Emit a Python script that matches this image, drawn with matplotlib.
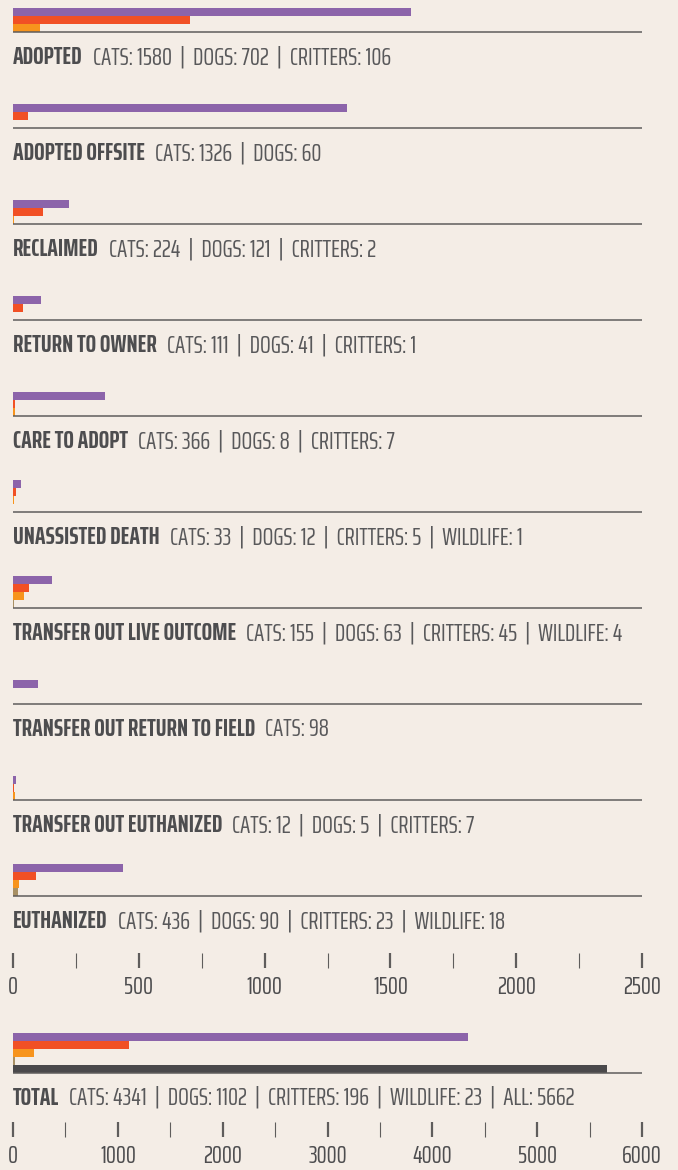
import matplotlib
matplotlib.use('Agg')
import matplotlib.pyplot as plt
from matplotlib import font_manager as fm
from matplotlib.ticker import MultipleLocator

# outcome rows
names = ["ADOPTED", "ADOPTED OFFSITE", "RECLAIMED", "RETURN TO OWNER", "CARE TO ADOPT",
         "UNASSISTED DEATH", "TRANSFER OUT LIVE OUTCOME", "TRANSFER OUT RETURN TO FIELD",
         "TRANSFER OUT EUTHANIZED", "EUTHANIZED"]
cats = [1580, 1326, 224, 111, 366, 33, 155, 98, 12, 436]
dogs = [702, 60, 121, 41, 8, 12, 63, None, 5, 90]
critters = [106, None, 2, 1, 7, 5, 45, None, 7, 23]
wildlife = [None, None, None, None, None, 1, 4, None, None, 18]

# totals
total_labels = ["CATS", "DOGS", "CRITTERS", "WILDLIFE", "ALL"]
total_values = [4341, 1102, 196, 23, 5662]

series_labels = ["CATS", "DOGS", "CRITTERS", "WILDLIFE"]
colors = ['#8c64aa', '#f15025', '#f7941d', '#a89064', '#4a494b']

BG = '#f4ede6'
TXT = '#4d4d4f'
LINE = '#5f5d5c'
SEP = "  |  "

W, H = 678, 1170
fig = plt.figure(figsize=(W / 100, H / 100), dpi=100, facecolor=BG)
renderer = fig.canvas.get_renderer()


# pick the narrowest installed condensed face (the original uses a Bebas-like font)
def pick_font():
    groups = {}
    for f in fm.fontManager.ttflist:
        st = str(f.stretch).lower()
        if 'condensed' in st or 'narrow' in f.name.lower() or 'condensed' in f.name.lower():
            if f.style != 'normal':
                continue
            groups.setdefault((f.name, st), []).append(f)
    best = None
    for key, fl in groups.items():
        w = [int(f.weight) if str(f.weight).isdigit() else 400 for f in fl]
        reg = min(zip(fl, w), key=lambda p: abs(p[1] - 400))
        bold = min(zip(fl, w), key=lambda p: abs(p[1] - 700))
        if bold[1] < 600:
            continue
        rp = fm.FontProperties(fname=reg[0].fname, size=10)
        ww, hh, dd = renderer.get_text_width_height_descent("CATS: 1580 DOGS", rp, ismath=False)
        if best is None or ww < best[0]:
            best = (ww, reg[0].fname, bold[0].fname)
    if best is None:
        return fm.FontProperties(family='DejaVu Sans'), fm.FontProperties(family='DejaVu Sans', weight='bold')
    return fm.FontProperties(fname=best[1]), fm.FontProperties(fname=best[2])


REG, BOLD = pick_font()


def fp(base, size):
    p = base.copy()
    p.set_size(size)
    return p


def text_w(s, prop):
    return renderer.get_text_width_height_descent(s, prop, ismath=False)[0]


# font size: fit the widest label into the plot width
def fit_size():
    widest = 0
    for i in range(len(names)):
        parts = [v for v in (cats[i], dogs[i], critters[i], wildlife[i]) if v is not None]
        s = SEP.join("%s: %d" % (l, v) for l, v in zip(series_labels, parts))
        wpx = text_w(names[i], fp(BOLD, 10)) + 10 + text_w(s, fp(REG, 10))
        widest = max(widest, wpx)
    return min(19.0, 10 * 620 / widest)


FS = fit_size()

BAR = 8
PITCH = 96


def make_axes(top, bottom, xmax, step):
    ax = fig.add_axes([13 / W, (H - bottom) / H, 629 / W, (bottom - top) / H])
    ax.set_facecolor('none')
    ax.set_xlim(0, xmax)
    ax.set_ylim(bottom, top)
    for s in ax.spines.values():
        s.set_visible(False)
    ax.set_yticks([])
    ax.xaxis.set_major_locator(MultipleLocator(step))
    ax.xaxis.set_minor_locator(MultipleLocator(step / 2))
    ax.tick_params(axis='x', which='major', length=10.8, width=1.6, color=LINE,
                   pad=5, labelcolor=TXT)
    ax.tick_params(axis='x', which='minor', length=10.8, width=0.8, color=LINE)
    for lab in ax.get_xticklabels():
        lab.set_fontproperties(fp(REG, FS))
    return ax


def label(ax, y, name, parts):
    t = ax.text(0, y, name, fontproperties=fp(BOLD, FS), color=TXT,
                va='baseline', ha='left')
    bb = t.get_window_extent(renderer=renderer)
    x2 = ax.transData.inverted().transform((bb.x1 + 10, 0))[0]
    ax.text(x2, y, SEP.join(parts), fontproperties=fp(REG, FS), color='#58585a',
            va='baseline', ha='left')


def group(ax, base, vals, cols, labs, name, xmax):
    n = len(vals)
    top = base - BAR * n
    for k, (v, c) in enumerate(zip(vals, cols)):
        if v is None:
            continue
        ax.barh(top + BAR * k + BAR / 2, v, height=BAR, left=0, color=c,
                linewidth=0, clip_on=False)
    ax.plot([0, xmax], [base, base], color=LINE, lw=1.1, solid_capstyle='butt',
            clip_on=False)
    parts = ["%s: %d" % (l, v) for l, v in zip(labs, vals) if v is not None]
    label(ax, base + 32, name, parts)


ax1 = make_axes(0, 953, 2500, 500)
for i, name in enumerate(names):
    base = 32 + PITCH * i
    vals = [cats[i], dogs[i], critters[i]]
    if wildlife[i] is not None:
        vals.append(wildlife[i])
    group(ax1, base, vals, colors, series_labels, name, 2500)

ax2 = make_axes(1010, 1122, 6000, 1000)
group(ax2, 1073, total_values, colors, total_labels, "TOTAL", 6000)

fig.savefig('out.png', dpi=100, facecolor=BG)
